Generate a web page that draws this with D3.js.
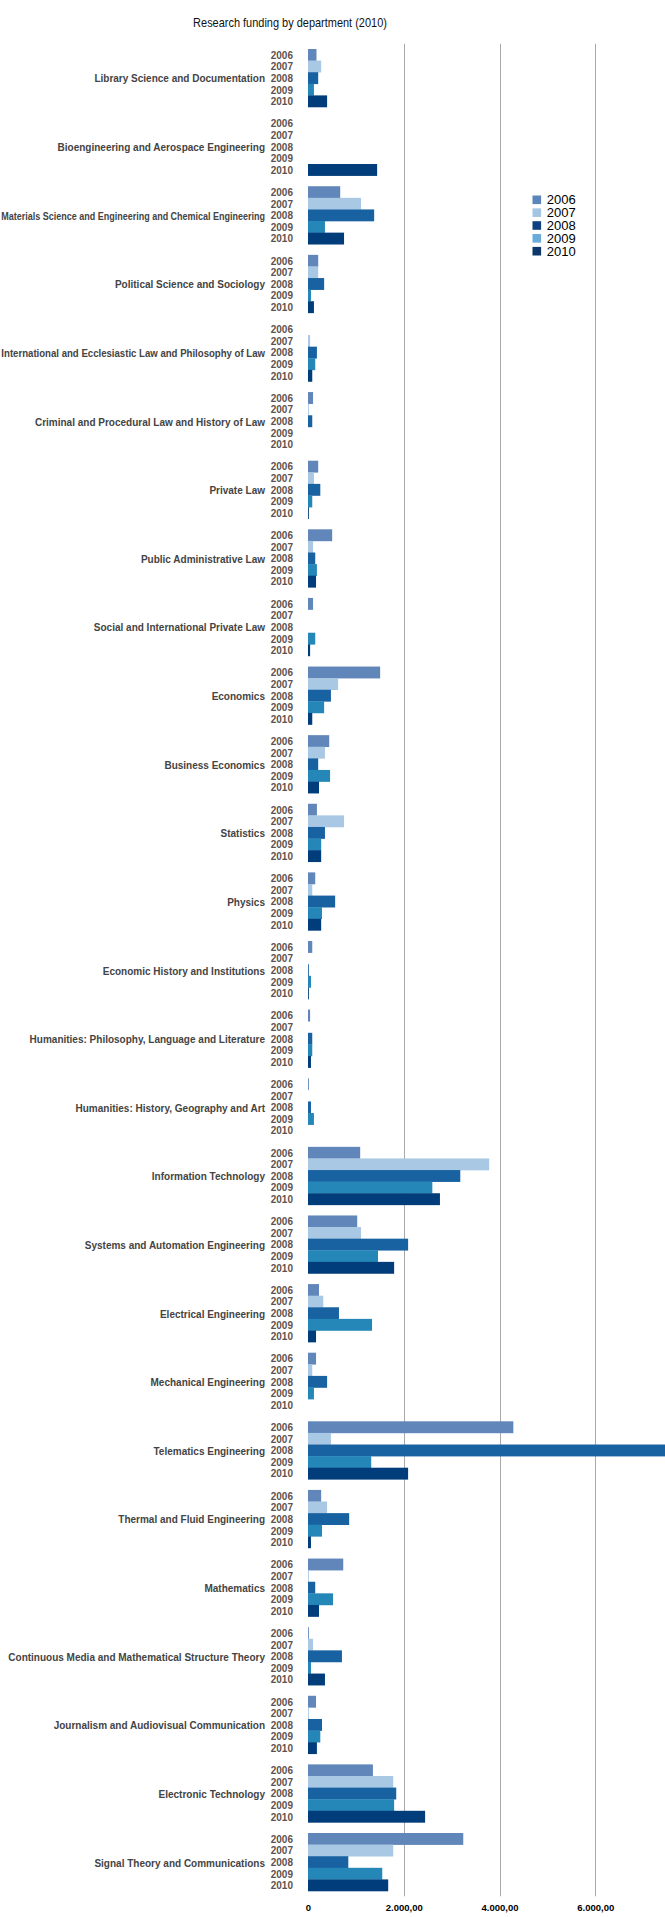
<!DOCTYPE html>
<html>
<head>
<meta charset="utf-8">
<script src="https://cdn.jsdelivr.net/npm/d3@7"></script>
<style>
  html, body { margin: 0; padding: 0; background: #fff; }
  svg { display: block; }
</style>
</head>
<body>
<div id="chart"></div>
<script>
const categories = [
  "Library Science and Documentation",
  "Bioengineering and Aerospace Engineering",
  "Materials Science and Engineering and Chemical Engineering",
  "Political Science and Sociology",
  "International and Ecclesiastic Law and Philosophy of Law",
  "Criminal and Procedural Law and History of Law",
  "Private Law",
  "Public Administrative Law",
  "Social and International Private Law",
  "Economics",
  "Business Economics",
  "Statistics",
  "Physics",
  "Economic History and Institutions",
  "Humanities: Philosophy, Language and Literature",
  "Humanities: History, Geography and Art",
  "Information Technology",
  "Systems and Automation Engineering",
  "Electrical Engineering",
  "Mechanical Engineering",
  "Telematics Engineering",
  "Thermal and Fluid Engineering",
  "Mathematics",
  "Continuous Media and Mathematical Structure Theory",
  "Journalism and Audiovisual Communication",
  "Electronic Technology",
  "Signal Theory and Communications"
];
const years = ["2006", "2007", "2008", "2009", "2010"];

const values2006 = [177, 0, 673, 213, 0, 106, 213, 505, 106, 1507, 443, 186, 151, 89, 44, 18, 1090, 1028, 230, 168, 4289, 275, 736, 18, 168, 1356, 3243];
const values2007 = [275, 0, 1108, 213, 44, 18, 124, 106, 0, 629, 354, 753, 89, 0, 0, 0, 3784, 1108, 319, 89, 479, 399, 18, 106, 18, 1781, 1781];
const values2008 = [213, 0, 1382, 337, 186, 89, 257, 151, 0, 479, 213, 354, 567, 18, 89, 62, 3181, 2091, 647, 399, 7600, 860, 151, 709, 292, 1843, 842];
const values2009 = [124, 0, 354, 62, 151, 0, 89, 186, 151, 337, 461, 275, 292, 62, 89, 124, 2597, 1462, 1338, 124, 1320, 292, 523, 62, 257, 1799, 1551];
const values2010 = [399, 1444, 753, 124, 89, 0, 18, 168, 44, 89, 230, 275, 275, 18, 62, 0, 2756, 1799, 168, 0, 2091, 62, 230, 354, 186, 2446, 1675];

const tickValues = [0, 2000, 4000, 6000];
const tickLabels = ["0", "2.000,00", "4.000,00", "6.000,00"];

const barColors = ["#6086ba", "#a8c8e3", "#1862a2", "#2587b8", "#003d7a"];
const legendColors = ["#5b86bb", "#a4c6e4", "#0d4080", "#69acdc", "#0b3769"];

const seriesValues = [values2006, values2007, values2008, values2009, values2010];
const rows = categories.map((c, i) => ({
  category: c,
  values: years.map((y, j) => ({ year: y, value: seriesValues[j][i], idx: j }))
}));

const W = 665, H = 1917;
const svg = d3.select("#chart").append("svg")
  .attr("width", W).attr("height", H)
  .style("font-family", "'Liberation Sans', Arial, Helvetica, sans-serif");

const x = d3.scaleLinear().domain([0, 8000]).range([308, 691]);
const y = d3.scaleBand().domain(categories).range([49, 1891]).paddingInner(0.1548).paddingOuter(0);
const yInner = d3.scaleBand().domain(years).range([0, y.bandwidth()]);

const gap = (y.step() - y.bandwidth()) / 2;
const gridTop = y.range()[0] - gap;
const gridBottom = y.range()[1] + gap;

// title
const title = svg.append("text")
  .attr("x", 290).attr("y", 27)
  .attr("text-anchor", "middle")
  .style("font-family", "'Liberation Sans Narrow', 'Arial Narrow', 'Liberation Sans', sans-serif")
  .style("font-size", "13px")
  .attr("fill", "#111")
  .text("Research funding by department (2010)");
{
  const len = title.node().getComputedTextLength();
  if (len > 196) {
    const s = 194 / len;
    title.attr("x", 0).attr("y", 0).attr("transform", `translate(290,27) scale(${s},1)`);
  }
}

// gridlines
svg.append("g").selectAll("line")
  .data(tickValues.filter(d => d > 0))
  .join("line")
  .attr("x1", d => Math.round(x(d)) + 0.5).attr("x2", d => Math.round(x(d)) + 0.5)
  .attr("y1", gridTop).attr("y2", gridBottom)
  .attr("stroke", "#a8a8a8").attr("stroke-width", 1);

// bars
const groups = svg.append("g").selectAll("g")
  .data(rows).join("g")
  .attr("transform", d => `translate(0,${y(d.category)})`);

groups.selectAll("rect")
  .data(d => d.values.filter(v => v.value > 0))
  .join("rect")
  .attr("x", x(0))
  .attr("y", v => yInner(v.year))
  .attr("width", v => x(v.value) - x(0))
  .attr("height", yInner.bandwidth() + 0.3)
  .attr("fill", v => barColors[v.idx]);

// year labels
groups.selectAll("text.yr")
  .data(d => d.values)
  .join("text")
  .attr("class", "yr")
  .attr("x", 293)
  .attr("y", v => yInner(v.year) + yInner.bandwidth() / 2 + 4)
  .attr("text-anchor", "end")
  .style("font-size", "10px")
  .style("font-weight", "bold")
  .attr("fill", "#5f524e")
  .text(v => v.year);

// category labels (long ones squeezed horizontally to fit the left margin)
const labelRight = 265;
groups.append("text")
  .attr("class", "cat")
  .attr("x", 0).attr("y", 0)
  .attr("text-anchor", "end")
  .style("font-size", "10px")
  .style("font-weight", "bold")
  .attr("fill", "#444")
  .text(d => d.category)
  .each(function () {
    const len = this.getComputedTextLength();
    const s = len > labelRight - 1 ? (labelRight - 1) / len : 1;
    d3.select(this).attr("transform",
      `translate(${labelRight},${y.bandwidth() / 2 + 4.5}) scale(${s},1)`);
  });

// x axis
const axis = d3.axisBottom(x)
  .tickValues(tickValues)
  .tickFormat((d, i) => tickLabels[i])
  .tickSize(0).tickPadding(0);
const axG = svg.append("g").attr("transform", "translate(0,1911)").call(axis);
axG.select(".domain").remove();
axG.selectAll("text")
  .attr("y", 0).attr("dy", 0)
  .style("font-size", "9.5px")
  .style("font-weight", "bold")
  .style("font-family", "'Liberation Sans', Arial, sans-serif")
  .attr("fill", "#000");

// legend
const legend = svg.append("g").attr("transform", "translate(532.5,195.5)");
const li = legend.selectAll("g").data(years).join("g")
  .attr("transform", (d, i) => `translate(0,${i * 12.85})`);
li.append("rect").attr("width", 8.6).attr("height", 8.6)
  .attr("fill", (d, i) => legendColors[i]);
li.append("text")
  .attr("x", 14.2).attr("y", 8.6)
  .style("font-size", "13px")
  .attr("fill", "#000")
  .text(d => d);
</script>
</body>
</html>
